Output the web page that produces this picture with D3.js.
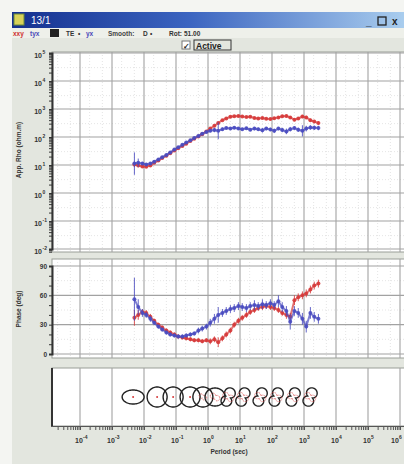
<!DOCTYPE html>
<html><head><meta charset="utf-8">
<script src="https://cdn.jsdelivr.net/npm/d3@7"></script>
<style>body{margin:0;background:#f4f5f2;} svg{display:block;font-family:"Liberation Sans",Arial,sans-serif;}</style>
</head><body><svg id="c" width="404" height="464"></svg>
<script>
// ---------------- data ----------------
const periodLog = [-2.30,-2.18,-2.05,-1.93,-1.80,-1.68,-1.55,-1.43,-1.30,-1.18,-1.05,-0.93,-0.80,-0.68,-0.55,-0.43,-0.30,-0.18,-0.05,0.07,0.20,0.32,0.45,0.57,0.70,0.82,0.95,1.07,1.20,1.32,1.45,1.57,1.70,1.82,1.95,2.07,2.20,2.32,2.45,2.57,2.70,2.82,2.95,3.07,3.20,3.32,3.45];
const rhoRedLog = [1.02,0.98,0.95,0.94,0.98,1.08,1.16,1.25,1.33,1.42,1.52,1.60,1.68,1.76,1.86,1.94,2.02,2.10,2.20,2.30,2.40,2.50,2.60,2.66,2.72,2.74,2.75,2.73,2.71,2.72,2.68,2.66,2.68,2.65,2.64,2.67,2.70,2.74,2.75,2.70,2.62,2.66,2.73,2.70,2.60,2.55,2.50];
const rhoBlueLog = [1.05,1.08,1.05,1.02,1.05,1.12,1.20,1.28,1.36,1.45,1.55,1.63,1.72,1.80,1.88,1.96,2.04,2.12,2.18,2.22,2.25,2.22,2.28,2.32,2.30,2.33,2.30,2.28,2.31,2.26,2.30,2.28,2.24,2.30,2.27,2.22,2.30,2.25,2.20,2.28,2.32,2.26,2.22,2.30,2.34,2.33,2.32];
const rhoRedErr = [0.10,0.06,0.04,0.03,0.03,0.03,0.03,0.03,0.03,0.03,0.03,0.03,0.03,0.03,0.03,0.03,0.03,0.03,0.03,0.03,0.03,0.03,0.03,0.03,0.03,0.03,0.03,0.03,0.03,0.03,0.03,0.04,0.04,0.04,0.04,0.04,0.05,0.05,0.05,0.05,0.05,0.05,0.06,0.06,0.06,0.06,0.06];
const rhoBlueErr = [0.40,0.15,0.06,0.04,0.04,0.03,0.03,0.03,0.03,0.03,0.03,0.03,0.03,0.03,0.03,0.03,0.03,0.03,0.03,0.05,0.08,0.30,0.06,0.05,0.05,0.05,0.05,0.05,0.05,0.05,0.06,0.06,0.08,0.06,0.06,0.08,0.06,0.08,0.10,0.08,0.06,0.08,0.20,0.10,0.08,0.08,0.08];
const phaseRed = [37,40,43,42,38,34,30,27,24,22,20,18,17,16,15,14,14,13,14,13,15,12,16,20,24,30,34,37,40,43,45,47,48,49,48,47,45,42,40,38,55,58,60,62,66,70,72];
const phaseBlue = [56,48,42,40,36,32,28,25,22,20,19,18,18,19,20,21,24,26,28,32,36,40,42,44,46,47,49,48,47,49,50,49,51,50,52,50,54,48,44,33,44,42,36,28,42,38,36];
const phaseRedErr = [8,5,3,3,3,2,2,2,2,2,2,2,2,2,2,2,2,2,2,3,3,5,3,3,3,3,3,3,3,3,3,3,3,3,3,3,3,3,4,4,5,4,4,4,4,4,4];
const phaseBlueErr = [22,8,4,3,3,2,2,2,2,2,2,2,2,2,2,2,3,3,3,4,5,8,4,4,4,4,4,4,4,4,5,4,5,4,4,4,6,5,5,8,5,5,6,6,6,5,5];
// polar diagram glyphs
const polarLog = [-2.34,-1.59,-1.09,-0.56,-0.16,0.22,0.63,1.09,1.63,2.13,2.66,3.19];
const polarMajor = [11,10,10,10,10,10,7,7,7,7,7,7];
const polarMinor = [7,10,10,10,10,9,2.5,2.5,2.5,2.5,2.5,2.5];
const polarKind = ["e","e","e","e","e","e","p","p","p","p","p","p"];
const polarRedSize = [0,0,0,0,3,4,5,5,5,5,5,5];
const xTickExp = [-4,-3,-2,-1,0,1,2,3,4,5,6];
const rhoTickExp = [5,4,3,2,1,0,-1,-2];
const phaseTicks = [90,60,30,0];

// ---------------- drawing ----------------
const svg = d3.select("#c");
const defs = svg.append("defs");
const g1 = defs.append("linearGradient").attr("id","tb").attr("x1","0").attr("x2","1");
g1.append("stop").attr("offset","0").attr("stop-color","#14308f");
g1.append("stop").attr("offset","0.45").attr("stop-color","#3b64c0");
g1.append("stop").attr("offset","1").attr("stop-color","#a9cdee");
defs.append("clipPath").attr("id","clipAll").append("rect").attr("x",52).attr("y",40).attr("width",352).attr("height",400);

// window body
svg.append("rect").attr("x",12).attr("y",12).attr("width",392).attr("height",452).attr("fill","#e3e6df");
svg.append("rect").attr("x",12).attr("y",12).attr("width",392).attr("height",16).attr("fill","url(#tb)");
svg.append("rect").attr("x",14).attr("y",14).attr("width",10).attr("height",11).attr("fill","#d8d25a").attr("stroke","#6a8a3a").attr("stroke-width",1);
svg.append("text").attr("x",31).attr("y",24).attr("fill","#fff").attr("font-size",10).text("13/1");
svg.append("text").attr("x",366).attr("y",25).attr("fill","#222").attr("font-size",10).attr("font-weight","bold").text("_");
svg.append("rect").attr("x",378).attr("y",17).attr("width",8).attr("height",8).attr("fill","none").attr("stroke","#222").attr("stroke-width",1.3);
svg.append("text").attr("x",392).attr("y",25).attr("fill","#222").attr("font-size",10).attr("font-weight","bold").text("x");
svg.append("rect").attr("x",12).attr("y",28).attr("width",392).attr("height",10).attr("fill","#eef0ea");

// toolbar
const tb = svg.append("g").attr("font-size",6.5).attr("font-weight","bold");
tb.append("text").attr("x",13).attr("y",35.5).attr("fill","#d03030").text("xxy");
tb.append("text").attr("x",30).attr("y",35.5).attr("fill","#4a4ab8").text("tyx");
tb.append("rect").attr("x",50).attr("y",29).attr("width",9).attr("height",8).attr("fill","#222");
tb.append("text").attr("x",66).attr("y",35.5).attr("fill","#333").text("TE");
tb.append("text").attr("x",78).attr("y",35.5).attr("fill","#333").text("•");
tb.append("text").attr("x",86).attr("y",35.5).attr("fill","#4a4ab8").text("yx");
tb.append("text").attr("x",108).attr("y",35.5).attr("fill","#444").text("Smooth:");
tb.append("text").attr("x",143).attr("y",35.5).attr("fill","#333").text("D");
tb.append("text").attr("x",150).attr("y",35.5).attr("fill","#333").text("•");
tb.append("text").attr("x",169).attr("y",35.5).attr("fill","#333").text("Rot:");
tb.append("text").attr("x",184).attr("y",35.5).attr("fill","#333").text("51.00");
// Active checkbox
svg.append("rect").attr("x",182).attr("y",41).attr("width",8).attr("height",8).attr("fill","#fff").attr("stroke","#777");
svg.append("text").attr("x",183).attr("y",48.5).attr("font-size",8).attr("font-weight","bold").attr("fill","#222").text("✓");
svg.append("rect").attr("x",194).attr("y",40).attr("width",37).attr("height",10).attr("fill","none").attr("stroke","#333").attr("stroke-width",1);
svg.append("text").attr("x",196).attr("y",48.5).attr("font-size",8.5).attr("font-weight","bold").attr("fill","#222").text("Active");

// scales
const x = d3.scaleLog().domain([Math.pow(10,-4.875), Math.pow(10,6.125)]).range([52,404]);
const yR = d3.scaleLog().domain([1e-2,1e5]).range([249,53]);
const yP = d3.scaleLinear().domain([0,90]).range([354,266]);

const panels = [{y0:52,y1:252},{y0:259,y1:358},{y0:368,y1:426}];
panels.forEach(p=>svg.append("rect").attr("x",52).attr("y",p.y0).attr("width",360).attr("height",p.y1-p.y0).attr("fill","#fff").attr("stroke","#9a9e98").attr("stroke-width",1));

const minorX = [];
xTickExp.concat([-5]).forEach(e=>{for(let m=2;m<10;m++){const v=m*Math.pow(10,e); if(x(v)>52&&x(v)<404) minorX.push(v);}});
const majorX = xTickExp.map(e=>Math.pow(10,e));
const minorGridX = [];
xTickExp.concat([-5]).forEach(e=>{[2,5].forEach(m=>{const v=m*Math.pow(10,e); if(x(v)>52&&x(v)<404) minorGridX.push(v);});});

function vgrid(y0,y1,minor){
  const g = svg.append("g");
  if(minor) g.selectAll("line.mn").data(minorGridX).join("line").attr("x1",d=>x(d)).attr("x2",d=>x(d)).attr("y1",y0).attr("y2",y1)
    .attr("stroke","#d4d4d4").attr("stroke-width",0.6).attr("stroke-dasharray","1,2");
  g.selectAll("line.mj").data(majorX).join("line").attr("x1",d=>x(d)).attr("x2",d=>x(d)).attr("y1",y0).attr("y2",y1)
    .attr("stroke","#a2a2a2").attr("stroke-width",1.1);
}
// rho panel grid
const minorR = [];
[-3,-2,-1,0,1,2,3,4].forEach(e=>{for(let m=2;m<10;m++){const v=m*Math.pow(10,e); if(yR(v)>52&&yR(v)<252) minorR.push(v);}});
const minorGridR = [];
[-3,-2,-1,0,1,2,3,4].forEach(e=>{[3].forEach(m=>{const v=m*Math.pow(10,e); if(yR(v)>52&&yR(v)<252) minorGridR.push(v);});});
svg.append("g").selectAll("line").data(minorGridR).join("line").attr("x1",52).attr("x2",404).attr("y1",d=>yR(d)).attr("y2",d=>yR(d))
  .attr("stroke","#d4d4d4").attr("stroke-width",0.6).attr("stroke-dasharray","1,2");
vgrid(52,252,true);
svg.append("g").selectAll("line").data(rhoTickExp).join("line").attr("x1",52).attr("x2",404).attr("y1",d=>yR(Math.pow(10,d))).attr("y2",d=>yR(Math.pow(10,d)))
  .attr("stroke","#a2a2a2").attr("stroke-width",1.1);
// phase grid
const minorP = [10,20,40,50,70,80];
svg.append("g").selectAll("line").data([15,45,75]).join("line").attr("x1",52).attr("x2",404).attr("y1",d=>yP(d)).attr("y2",d=>yP(d))
  .attr("stroke","#d4d4d4").attr("stroke-width",0.6).attr("stroke-dasharray","1,2");
vgrid(259,358,true);
svg.append("g").selectAll("line").data(phaseTicks).join("line").attr("x1",52).attr("x2",404).attr("y1",d=>yP(d)).attr("y2",d=>yP(d))
  .attr("stroke","#a2a2a2").attr("stroke-width",1.1);
// polar panel grid
vgrid(368,426,false);

// axes (left)
const axR = d3.axisLeft(yR).tickValues(rhoTickExp.map(e=>Math.pow(10,e)).concat(minorR)).tickSize(3).tickFormat("");
svg.append("g").attr("transform","translate(52,0)").call(axR).call(g=>{g.select(".domain").attr("stroke","#333").attr("stroke-width",2);g.selectAll(".tick line").attr("stroke","#333");});
const axP = d3.axisLeft(yP).tickValues(phaseTicks.concat(minorP)).tickSize(3).tickFormat("");
svg.append("g").attr("transform","translate(52,0)").call(axP).call(g=>{g.select(".domain").attr("stroke","#333").attr("stroke-width",2);g.selectAll(".tick line").attr("stroke","#333");});
svg.append("line").attr("x1",52).attr("x2",52).attr("y1",368).attr("y2",427).attr("stroke","#333").attr("stroke-width",2);
svg.append("line").attr("x1",51).attr("x2",404).attr("y1",426.5).attr("y2",426.5).attr("stroke","#555").attr("stroke-width",1);
// bottom axis ticks
const axX = d3.axisBottom(x).tickValues(majorX.concat(minorX)).tickSize(3).tickFormat("");
svg.append("g").attr("transform","translate(0,427)").call(axX).call(g=>{g.select(".domain").remove();g.selectAll(".tick line").attr("stroke","#555");});

// tick labels
const lab = svg.append("g").attr("fill","#333").attr("font-weight","bold");
rhoTickExp.forEach(e=>{
  lab.append("text").attr("x",42).attr("y",yR(Math.pow(10,e))+5).attr("text-anchor","end").attr("font-size",7).text("10");
  lab.append("text").attr("x",42.5).attr("y",yR(Math.pow(10,e))+1).attr("font-size",5).text(e);
});
phaseTicks.forEach(v=>{
  lab.append("text").attr("x",47).attr("y",yP(v)+2.5).attr("text-anchor","end").attr("font-size",6.5).text(v);
});
xTickExp.forEach(e=>{
  const xx = Math.min(x(Math.pow(10,e)), 396);
  lab.append("text").attr("x",xx-1).attr("y",443).attr("text-anchor","middle").attr("font-size",7).text("10");
  lab.append("text").attr("x",xx+3).attr("y",439).attr("font-size",5).text(e);
});
lab.append("text").attr("x",229).attr("y",454).attr("text-anchor","middle").attr("font-size",6.5).text("Period (sec)");
lab.append("text").attr("transform","translate(21,150) rotate(-90)").attr("text-anchor","middle").attr("font-size",6.5).text("App. Rho (ohm.m)");
lab.append("text").attr("transform","translate(21,309) rotate(-90)").attr("text-anchor","middle").attr("font-size",6.5).text("Phase (deg)");

// data series
const dataG = svg.append("g").attr("clip-path","url(#clipAll)");
function series(vals, errs, yfn, color, isLog){
  const pts = periodLog.map((t,i)=>({t:Math.pow(10,t), v:vals[i], e:errs[i]}));
  const yv = d=> isLog ? yfn(Math.pow(10,d.v)) : yfn(d.v);
  const lo = d=> isLog ? yfn(Math.pow(10,d.v-d.e)) : yfn(d.v-d.e);
  const hi = d=> isLog ? yfn(Math.pow(10,d.v+d.e)) : yfn(d.v+d.e);
  const g = dataG.append("g");
  g.selectAll("line").data(pts).join("line").attr("x1",d=>x(d.t)).attr("x2",d=>x(d.t)).attr("y1",lo).attr("y2",hi)
    .attr("stroke",color).attr("stroke-width",1).attr("opacity",0.85);
  g.append("path").datum(pts).attr("d",d3.line().x(d=>x(d.t)).y(yv)).attr("fill","none").attr("stroke",color).attr("stroke-width",2).attr("opacity",0.7);
  g.selectAll("circle").data(pts).join("circle").attr("cx",d=>x(d.t)).attr("cy",yv).attr("r",2).attr("fill",color).attr("opacity",0.9);
}
series(rhoRedLog, rhoRedErr, yR, "#d63a3a", true);
series(rhoBlueLog, rhoBlueErr, yR, "#4a4cc0", true);
series(phaseRed, phaseRedErr, yP, "#d63a3a", false);
series(phaseBlue, phaseBlueErr, yP, "#4a4cc0", false);

// polar diagrams
const pg = svg.append("g");
const cy = 397;
function glyphPath(kind,a,b,ang){
  const pts=[];
  for(let k=0;k<=72;k++){
    const th = k/72*2*Math.PI;
    const psi = th-ang;
    let r;
    if(kind==="e") r = a*b/Math.sqrt(Math.pow(b*Math.cos(psi),2)+Math.pow(a*Math.sin(psi),2));
    else r = a*Math.abs(Math.cos(psi))+b;
    pts.push([r*Math.cos(th), r*Math.sin(th)]);
  }
  return d3.line().curve(d3.curveLinearClosed)(pts);
}
polarLog.forEach((t,i)=>{
  const cx = x(Math.pow(10,t));
  pg.append("path").attr("transform",`translate(${cx},${cy})`).attr("d",glyphPath(polarKind[i],polarMajor[i],polarMinor[i],polarKind[i]==="p"?-1.15:0))
    .attr("fill","none").attr("stroke","#222").attr("stroke-width",1.4);
  if(polarRedSize[i]>0){
    pg.append("path").attr("transform",`translate(${cx},${cy})`).attr("d",glyphPath("p",polarRedSize[i],1,0.5))
      .attr("fill","none").attr("stroke","#d63a3a").attr("stroke-width",0.7).attr("stroke-dasharray","1.5,1");
  } else {
    pg.append("circle").attr("cx",cx).attr("cy",cy).attr("r",1).attr("fill","#d63a3a");
  }
});
</script>
</body></html>
